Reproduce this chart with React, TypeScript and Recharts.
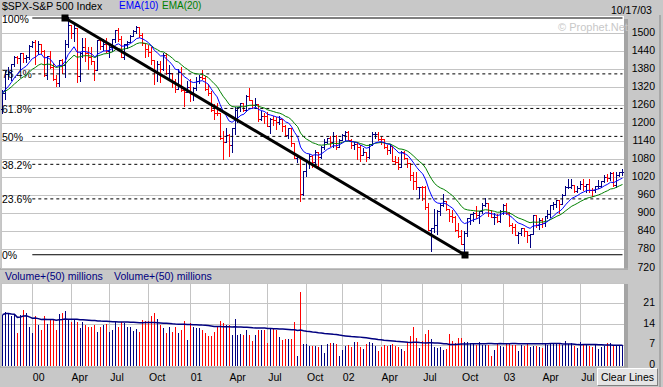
import React from 'react'
import { ComposedChart, Bar, Line, XAxis, YAxis, CartesianGrid, ReferenceLine, ReferenceDot } from 'recharts'

// weekly bars, first week ending 1999-10-22, last 2003-10-17
const opens = [
  1247.4, 1301.7, 1362.9, 1370.2, 1396.1, 1422.0, 1416.6, 1433.3, 1417.0, 1421.0,
  1458.3, 1469.3, 1441.5, 1465.2, 1441.4, 1360.2, 1424.4, 1387.1, 1346.1, 1333.4,
  1409.2, 1395.1, 1464.5, 1527.5, 1498.6, 1516.4, 1356.6, 1434.5, 1452.4, 1432.6,
  1421.0, 1407.0, 1378.0, 1477.3, 1457.0, 1464.5, 1441.5, 1454.6, 1478.9, 1510.0,
  1480.2, 1419.9, 1462.9, 1471.8, 1491.7, 1506.5, 1520.8, 1494.5, 1465.8, 1448.7,
  1436.5, 1409.0, 1374.2, 1396.9, 1379.6, 1426.7, 1366.0, 1367.7, 1341.8, 1315.2,
  1369.9, 1312.2, 1306.0, 1320.3, 1298.4, 1318.6, 1342.5, 1355.0, 1349.5, 1314.8,
  1301.5, 1245.9, 1234.2, 1233.4, 1150.5, 1139.8, 1160.3, 1128.4, 1183.5, 1243.0,
  1253.1, 1266.6, 1245.7, 1292.0, 1277.9, 1260.7, 1265.0, 1214.4, 1225.4, 1224.4,
  1190.6, 1215.7, 1210.9, 1205.8, 1214.4, 1190.2, 1162.0, 1184.9, 1133.6, 1085.8,
  1092.5, 965.8, 1040.9, 1071.4, 1091.7, 1073.5, 1104.6, 1087.2, 1120.3, 1138.7,
  1150.3, 1139.5, 1158.3, 1123.1, 1144.9, 1161.0, 1172.5, 1145.6, 1127.6, 1133.3,
  1122.2, 1096.2, 1104.2, 1089.8, 1131.8, 1164.3, 1166.2, 1148.7, 1147.4, 1122.7,
  1111.0, 1125.2, 1076.3, 1073.4, 1055.0, 1106.6, 1083.8, 1067.1, 1027.5, 1007.3,
  989.1, 989.8, 989.0, 921.4, 847.8, 852.8, 864.2, 908.6, 928.8, 940.9,
  916.1, 893.9, 889.8, 845.4, 827.4, 800.6, 835.3, 884.4, 897.7, 901.0,
  894.7, 909.8, 930.6, 936.3, 901.6, 889.5, 889.8, 875.4, 908.6, 927.6,
  901.8, 861.4, 855.7, 829.7, 834.9, 851.2, 841.2, 828.9, 833.3, 895.8,
  863.5, 878.9, 868.3, 893.6, 898.8, 930.1, 933.4, 944.3, 933.2, 963.6,
  987.8, 988.6, 995.7, 976.2, 985.7, 998.1, 993.3, 998.7, 980.2, 977.6,
  990.7, 993.1, 1008.0, 1021.4, 1018.6, 1036.3, 996.9, 1029.9, 1038.7,
]
const highs = [
  1311, 1373, 1387, 1397, 1424, 1425, 1435, 1434, 1426, 1462,
  1473, 1478, 1473, 1465, 1445, 1425, 1442, 1400, 1362, 1411,
  1413, 1477, 1553, 1528, 1527, 1517, 1436, 1483, 1482, 1453,
  1455, 1408, 1478, 1478, 1480, 1483, 1460, 1479, 1510, 1518,
  1490, 1463, 1475, 1494, 1509, 1525, 1521, 1499, 1466, 1461,
  1455, 1410, 1408, 1408, 1434, 1434, 1395, 1369, 1349, 1380,
  1389, 1313, 1340, 1347, 1320, 1354, 1362, 1376, 1357, 1330,
  1308, 1265, 1268, 1235, 1174, 1184, 1164, 1184, 1253, 1256,
  1268, 1268, 1293, 1316, 1278, 1286, 1266, 1240, 1236, 1237,
  1219, 1225, 1222, 1226, 1215, 1194, 1185, 1185, 1135, 1096,
  1093, 1041, 1075, 1100, 1096, 1111, 1106, 1125, 1147, 1152,
  1157, 1173, 1160, 1147, 1165, 1176, 1176, 1148, 1139, 1139,
  1127, 1119, 1105, 1132, 1173, 1170, 1172, 1155, 1148, 1127,
  1131, 1126, 1091, 1088, 1107, 1107, 1086, 1068, 1038, 1040,
  990, 993, 993, 935, 854, 915, 913, 935, 965, 941,
  917, 912, 891, 870, 847, 844, 886, 900, 907, 925,
  910, 937, 954, 937, 912, 903, 898, 911, 932, 935,
  906, 870, 865, 841, 852, 852, 842, 833, 896, 896,
  885, 887, 894, 911, 930, 939, 947, 945, 965, 993,
  1016, 1015, 996, 991, 1010, 1015, 999, 1016, 986, 992,
  1011, 1009, 1030, 1031, 1040, 1040, 1039, 1040, 1049,
]
const lows = [
  1233, 1281, 1348, 1345, 1392, 1402, 1378, 1403, 1403, 1416,
  1453, 1397, 1430, 1435, 1358, 1350, 1386, 1345, 1325, 1325,
  1368, 1355, 1455, 1484, 1475, 1339, 1339, 1420, 1405, 1380,
  1400, 1346, 1378, 1449, 1445, 1437, 1421, 1438, 1470, 1476,
  1419, 1413, 1452, 1470, 1489, 1502, 1488, 1460, 1421, 1425,
  1400, 1330, 1342, 1337, 1378, 1365, 1346, 1322, 1305, 1313,
  1310, 1255, 1305, 1275, 1277, 1310, 1335, 1346, 1311, 1294,
  1241, 1215, 1228, 1148, 1081, 1136, 1091, 1103, 1165, 1206,
  1243, 1240, 1241, 1277, 1250, 1260, 1211, 1210, 1202, 1190,
  1169, 1195, 1183, 1200, 1175, 1160, 1153, 1124, 1085, 1073,
  945, 962, 1026, 1053, 1057, 1065, 1054, 1084, 1115, 1134,
  1124, 1124, 1114, 1122, 1144, 1145, 1145, 1117, 1117, 1081,
  1074, 1095, 1074, 1086, 1130, 1150, 1145, 1131, 1119, 1097,
  1101, 1076, 1063, 1048, 1053, 1082, 1057, 1012, 982, 985,
  952, 946, 917, 846, 776, 837, 833, 895, 925, 910,
  876, 873, 840, 825, 800, 769, 825, 866, 876, 885,
  869, 904, 929, 895, 889, 866, 873, 870, 899, 899,
  860, 838, 827, 806, 830, 824, 807, 789, 832, 855,
  847, 858, 862, 885, 889, 917, 925, 902, 931, 962,
  986, 986, 972, 971, 983, 977, 973, 974, 960, 973,
  984, 988, 1008, 1007, 1014, 995, 990, 1026, 1029,
]
const closes = [
  1301.7, 1362.9, 1370.2, 1396.1, 1422.0, 1416.6, 1433.3, 1417.0, 1421.0, 1458.3,
  1469.3, 1441.5, 1465.2, 1441.4, 1360.2, 1424.4, 1387.1, 1346.1, 1333.4, 1409.2,
  1395.1, 1464.5, 1527.5, 1498.6, 1516.4, 1356.6, 1434.5, 1452.4, 1432.6, 1421.0,
  1407.0, 1378.0, 1477.3, 1457.0, 1464.5, 1441.5, 1454.6, 1478.9, 1510.0, 1480.2,
  1419.9, 1462.9, 1471.8, 1491.7, 1506.5, 1520.8, 1494.5, 1465.8, 1448.7, 1436.5,
  1409.0, 1374.2, 1396.9, 1379.6, 1426.7, 1366.0, 1367.7, 1341.8, 1315.2, 1369.9,
  1312.2, 1306.0, 1320.3, 1298.4, 1318.6, 1342.5, 1355.0, 1349.5, 1314.8, 1301.5,
  1245.9, 1234.2, 1233.4, 1150.5, 1139.8, 1160.3, 1128.4, 1183.5, 1243.0, 1253.1,
  1266.6, 1245.7, 1292.0, 1277.9, 1260.7, 1265.0, 1214.4, 1225.4, 1224.4, 1190.6,
  1215.7, 1210.9, 1205.8, 1214.4, 1190.2, 1162.0, 1184.9, 1133.6, 1085.8, 1092.5,
  965.8, 1040.9, 1071.4, 1091.7, 1073.5, 1104.6, 1087.2, 1120.3, 1138.7, 1150.3,
  1139.5, 1158.3, 1123.1, 1144.9, 1161.0, 1172.5, 1145.6, 1127.6, 1133.3, 1122.2,
  1096.2, 1104.2, 1089.8, 1131.8, 1164.3, 1166.2, 1148.7, 1147.4, 1122.7, 1111.0,
  1125.2, 1076.3, 1073.4, 1055.0, 1106.6, 1083.8, 1067.1, 1027.5, 1007.3, 989.1,
  989.8, 989.0, 921.4, 847.8, 852.8, 864.2, 908.6, 928.8, 940.9, 916.1,
  893.9, 889.8, 845.4, 827.4, 800.6, 835.3, 884.4, 897.7, 901.0, 894.7,
  909.8, 930.6, 936.3, 901.6, 889.5, 889.8, 875.4, 908.6, 927.6, 901.8,
  861.4, 855.7, 829.7, 834.9, 851.2, 841.2, 828.9, 833.3, 895.8, 863.5,
  878.9, 868.3, 893.6, 898.8, 930.1, 933.4, 944.3, 933.2, 963.6, 987.8,
  988.6, 995.7, 976.2, 985.7, 998.1, 993.3, 998.7, 980.2, 977.6, 990.7,
  993.1, 1008.0, 1021.4, 1018.6, 1036.3, 996.9, 1029.9, 1038.7, 1039.3,
]
// volume, millions
const volumes = [
  17.3, 18.1, 17.8, 16.9, 17.3, 11.1, 17.3, 19.0, 17.8, 13.3,
  11.3, 16.7, 13.9, 12.0, 16.7, 14.2, 15.6, 15.6, 12.0, 17.6,
  17.8, 18.6, 15.6, 15.0, 15.6, 15.0, 12.8, 15.0, 13.9, 13.0,
  13.0, 13.7, 11.6, 13.0, 13.9, 14.2, 11.6, 12.2, 14.7, 13.3,
  15.0, 14.4, 13.3, 13.0, 11.9, 12.5, 11.6, 15.6, 15.3, 15.2,
  16.7, 17.8, 15.8, 13.9, 12.8, 11.1, 13.3, 11.5, 13.3, 11.3,
  12.0, 15.2, 8.8, 14.4, 13.3, 12.8, 12.8, 12.2, 11.1, 10.2,
  10.2, 11.6, 13.3, 15.3, 14.4, 13.9, 13.9, 10.5, 15.9, 10.5,
  10.8, 10.5, 12.0, 10.3, 8.6, 10.5, 12.2, 12.0, 12.0, 7.9,
  12.8, 12.4, 12.0, 9.7, 8.8, 9.1, 9.1, 9.1, 15.0, 3.4,
  24.9, 7.3, 7.3, 6.8, 6.8, 6.8, 6.3, 7.1, 4.5, 7.3,
  7.7, 7.7, 7.4, 3.4, 5.4, 6.8, 7.1, 6.3, 8.2, 8.2,
  6.3, 5.8, 7.4, 8.2, 7.7, 6.8, 5.2, 6.3, 7.1, 6.8,
  7.1, 7.3, 6.8, 6.3, 5.6, 5.2, 7.7, 10.2, 13.3, 9.6,
  6.2, 8.5, 10.8, 12.0, 9.1, 6.5, 6.2, 6.5, 5.4, 5.6,
  10.8, 8.4, 7.9, 9.3, 9.6, 8.2, 8.2, 7.7, 7.7, 7.1,
  8.2, 7.1, 7.1, 7.1, 3.4, 5.4, 7.9, 6.8, 6.5, 7.9,
  7.4, 7.1, 7.1, 5.2, 7.1, 6.8, 7.7, 6.5, 6.8, 6.8,
  6.3, 6.0, 7.4, 7.1, 7.4, 7.7, 7.4, 7.7, 7.1, 8.6,
  7.3, 7.7, 6.8, 6.0, 8.2, 7.4, 7.2, 6.8, 6.3, 7.1,
  5.6, 6.3, 6.8, 7.7, 7.7, 7.2, 7.2, 7.2, 7.2,
]

const tickIdx = [10, 23, 36, 49, 63, 76, 89, 102, 114, 127, 141, 154, 168, 181, 194]
const tickLabels = ['00', 'Apr', 'Jul', 'Oct', '01', 'Apr', 'Jul', 'Oct', '02', 'Apr', 'Jul', 'Oct', '03', 'Apr', 'Jul']
const priceTicks = [720, 780, 840, 900, 960, 1020, 1080, 1140, 1200, 1260, 1320, 1380, 1440, 1500]
const volTicks = [0, 7, 14, 21, 28]

const fibHigh = 1550
const fibLow = 764
const fibLevels = [
  { label: '100%', pct: 1, dashed: false },
  { label: '76.4%', pct: 0.764, dashed: true },
  { label: '61.8%', pct: 0.618, dashed: true },
  { label: '50%', pct: 0.5, dashed: true },
  { label: '38.2%', pct: 0.382, dashed: true },
  { label: '23.6%', pct: 0.236, dashed: true },
  { label: '0%', pct: 0, dashed: false },
]
const fibStartIdx = 10
const trendFrom = { idx: 21, price: 1550 }
const trendTo = { idx: 155, price: 764 }

const NAVY = '#000080'
const RED = '#ff0000'

const weeks = closes.map((_, i) => new Date(Date.UTC(1999, 9, 22 + 7 * i)).toISOString().slice(0, 10))
const tickWeeks = tickIdx.map((i) => weeks[i])
const labelOf: Record<string, string> = {}
tickWeeks.forEach((w, k) => (labelOf[w] = tickLabels[k]))

const emaOf = (src: number[], n: number) => {
  const k = 2 / (n + 1)
  let e = src[0]
  return src.map((v) => (e += k * (v - e)))
}
const smaOf = (src: number[], n: number) =>
  src.map((_, i) => {
    const s = src.slice(Math.max(0, i - n + 1), i + 1)
    return s.reduce((a, b) => a + b, 0) / s.length
  })

const ema10 = emaOf(closes, 10)
const ema20 = emaOf(closes, 20)
const volAvg = smaOf(volumes, 50)

const data = weeks.map((week, i) => ({
  week,
  open: opens[i],
  high: highs[i],
  low: lows[i],
  close: closes[i],
  range: [lows[i], highs[i]],
  up: closes[i] >= (i ? closes[i - 1] : opens[i]),
  ema10: ema10[i],
  ema20: ema20[i],
  vol: volumes[i],
  volAvg: volAvg[i],
}))

function OhlcShape(props: any) {
  const { x, y, width, height, payload } = props
  if (x == null || y == null) return null
  const cx = Math.floor(x + width / 2)
  const span = payload.high - payload.low || 1
  const yAt = (v: number) => Math.round(y + ((payload.high - v) / span) * height)
  return (
    <g fill={payload.up ? NAVY : RED} shapeRendering="crispEdges">
      <rect x={cx} y={Math.round(y)} width={1} height={Math.max(1, Math.round(height) + 1)} />
      <rect x={cx - 1} y={yAt(payload.open)} width={1} height={1} />
      <rect x={cx + 1} y={yAt(payload.close)} width={1} height={1} />
    </g>
  )
}

function VolShape(props: any) {
  const { x, y, width, height, payload } = props
  if (x == null || y == null) return null
  const cx = Math.floor(x + width / 2)
  return <rect x={cx} y={Math.round(y)} width={1} height={Math.max(0, Math.round(height))} fill={payload.up ? NAVY : RED} shapeRendering="crispEdges" />
}

function RightTick(props: any) {
  const { y, payload, shift = -1, skip } = props
  if (skip && payload.value === skip) return null
  return (
    <text x={655} y={y + shift} textAnchor="end" dominantBaseline="central" fontSize={10.5} fill="#000">
      {payload.value}
    </text>
  )
}

function DateTick(props: any) {
  const { x, y, payload } = props
  return (
    <text x={x + 0.5} y={y + 11} textAnchor="start" dominantBaseline="central" fontSize={10.5} fill="#000">
      {labelOf[payload.value]}
    </text>
  )
}

function FibLabel(props: any) {
  const { viewBox, text } = props
  if (!viewBox) return null
  return (
    <text x={2} y={viewBox.y + 0.5} dominantBaseline="central" fontSize={10.5} fill="#000">
      {text}
    </text>
  )
}

function Square(props: any) {
  const { cx, cy } = props
  return <rect x={Math.round(cx) - 3.5} y={Math.round(cy) - 3.5} width={7} height={7} fill="#000" />
}

const abs = (l: number, t: number, extra: React.CSSProperties = {}): React.CSSProperties => ({
  position: 'absolute',
  left: l,
  top: t,
  whiteSpace: 'nowrap',
  lineHeight: '12px',
  ...extra,
})

export default function App() {
  return (
    <div
      style={{
        position: 'absolute',
        left: 0,
        top: 0,
        width: 663,
        height: 387,
        background: '#c8c8c8',
        overflow: 'hidden',
        fontFamily: '"Liberation Sans", Arial, sans-serif',
        fontSize: 10.5,
      }}
    >
      <style>{`.recharts-cartesian-grid line{shape-rendering:crispEdges}`}</style>

      {/* frame shading, under the charts */}
      <div style={abs(0, 268, { width: 628, height: 2, background: '#adadad' })} />
      <div style={abs(0, 366, { width: 628, height: 2, background: '#adadad' })} />

      <div style={abs(0, 0)}>
        <ComposedChart width={663} height={275} data={data} margin={{ top: 15, right: 0, bottom: 7, left: 1 }} barCategoryGap={0}>
          <CartesianGrid stroke="#c4c4c4" fill="#ffffff" />
          <XAxis dataKey="week" ticks={tickWeeks} interval={0} tick={false} tickLine={false} axisLine={false} height={0} />
          <YAxis
            orientation="right"
            domain={[720, 1560]}
            ticks={priceTicks}
            interval={0}
            allowDataOverflow
            width={39}
            tickLine={false}
            axisLine={false}
            tick={<RightTick shift={-1.5} />}
          />
          {fibLevels.map((f) => {
            const price = fibLow + f.pct * (fibHigh - fibLow)
            return (
              <ReferenceLine
                key={f.label}
                segment={[
                  { x: weeks[fibStartIdx], y: price },
                  { x: weeks[weeks.length - 1], y: price },
                ]}
                stroke="#000"
                strokeWidth={1}
                strokeDasharray={f.dashed ? '3 3' : undefined}
                label={<FibLabel text={f.label} />}
              />
            )
          })}
          <Bar dataKey="range" shape={<OhlcShape />} isAnimationActive={false} />
          <Line dataKey="ema20" stroke="#008000" strokeWidth={1} dot={false} isAnimationActive={false} />
          <Line dataKey="ema10" stroke="#0000ff" strokeWidth={1} dot={false} isAnimationActive={false} />
          <ReferenceLine
            segment={[
              { x: weeks[trendFrom.idx], y: trendFrom.price },
              { x: weeks[trendTo.idx], y: trendTo.price },
            ]}
            stroke="#000"
            strokeWidth={3}
          />
          <ReferenceDot x={weeks[trendFrom.idx]} y={trendFrom.price} shape={<Square />} />
          <ReferenceDot x={weeks[trendTo.idx]} y={trendTo.price} shape={<Square />} />
        </ComposedChart>
      </div>

      <div style={abs(0, 267)}>
        <ComposedChart width={663} height={120} data={data} margin={{ top: 16, right: 0, bottom: 0, left: 1 }} barCategoryGap={0}>
          <CartesianGrid stroke="#c4c4c4" fill="#ffffff" />
          <XAxis
            dataKey="week"
            ticks={tickWeeks}
            interval={0}
            tickLine={false}
            axisLine={false}
            tickSize={0}
            tickMargin={0}
            height={21}
            tick={<DateTick />}
          />
          <YAxis
            orientation="right"
            domain={[0, 28]}
            ticks={volTicks}
            interval={0}
            width={39}
            tickLine={false}
            axisLine={false}
            tick={<RightTick shift={-2} skip={28} />}
          />
          <Bar dataKey="vol" shape={<VolShape />} isAnimationActive={false} />
          <Line dataKey="volAvg" stroke={NAVY} strokeWidth={1.5} dot={false} isAnimationActive={false} />
        </ComposedChart>
      </div>

      <div style={abs(624, 19, { width: 4, height: 249, background: '#a4a4a4' })} />
      <div style={abs(624, 284, { width: 4, height: 83, background: '#a4a4a4' })} />
      <div style={abs(659, 15, { width: 2, height: 372, background: '#a8a8a8' })} />

      <span style={abs(2, 0, { color: '#000' })}>$SPX-S&amp;P 500 Index</span>
      <span style={abs(119, 0, { color: '#0000ff', fontSize: 10 })}>EMA(10)</span>
      <span style={abs(162, 0, { color: '#008000', fontSize: 10 })}>EMA(20)</span>
      <span style={abs(611, 4, { color: '#000' })}>10/17/03</span>
      <span style={abs(558, 21, { color: '#c8c8c8', fontSize: 11 })}>© Prophet.Net</span>
      <span style={abs(5, 270, { color: NAVY })}>Volume+(50) millions</span>
      <span style={abs(114, 270, { color: NAVY })}>Volume+(50) millions</span>

      <div
        style={abs(597, 368, {
          width: 59,
          height: 16,
          background: '#e4e4e4',
          borderTop: '1px solid #ffffff',
          borderLeft: '1px solid #ffffff',
          borderBottom: '1px solid #808080',
          borderRight: '1px solid #808080',
          color: '#000',
          lineHeight: '16px',
          textAlign: 'center',
        })}
      >
        Clear Lines
      </div>
    </div>
  )
}
